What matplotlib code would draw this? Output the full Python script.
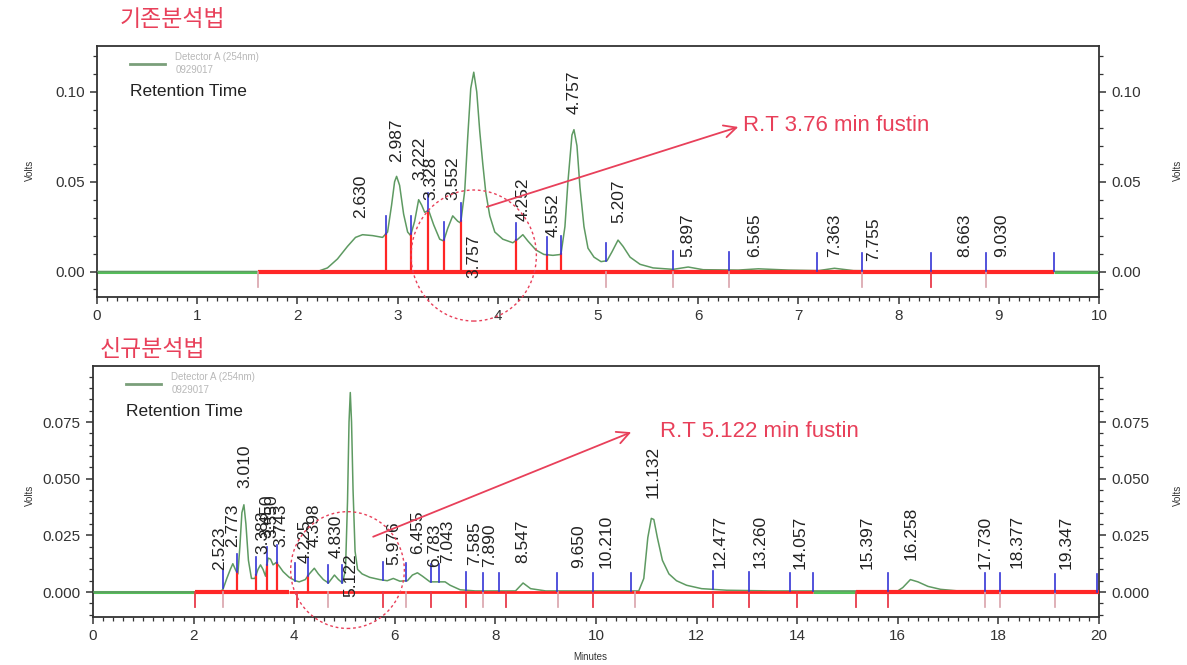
import numpy as np
import matplotlib
matplotlib.use("Agg")
import matplotlib.pyplot as plt
from matplotlib.patches import Ellipse
from matplotlib.ticker import MultipleLocator, FormatStrFormatter

plt.rcParams['font.family'] = ['Liberation Sans', 'DejaVu Sans']

# ---------------- 기존분석법 (old method) ----------------
old_time = [0.00, 2.20, 2.30, 2.40, 2.50, 2.58, 2.65, 2.75, 2.85, 2.90, 2.94, 2.97,
            2.99, 3.02, 3.06, 3.10, 3.13, 3.17, 3.21, 3.24, 3.27, 3.31, 3.36, 3.42,
            3.46, 3.50, 3.55, 3.60, 3.63, 3.67, 3.70, 3.73, 3.76, 3.79, 3.82, 3.85,
            3.88, 3.92, 3.97, 4.05, 4.15, 4.20, 4.25, 4.30, 4.38, 4.46, 4.55, 4.63,
            4.67, 4.70, 4.74, 4.76, 4.79, 4.82, 4.86, 4.90, 4.96, 5.03, 5.09, 5.14,
            5.20, 5.25, 5.32, 5.42, 5.55, 5.75, 5.90, 6.05, 6.40, 6.60, 6.90, 7.20,
            7.36, 7.55, 8.00, 10.00]
old_volts = [0.0, 0.0, 0.002, 0.007, 0.014, 0.019, 0.0205, 0.020, 0.019, 0.022, 0.037, 0.050,
             0.053, 0.048, 0.032, 0.022, 0.020, 0.028, 0.040, 0.037, 0.033, 0.034, 0.026, 0.018,
             0.017, 0.024, 0.031, 0.028, 0.027, 0.045, 0.075, 0.102, 0.111, 0.100, 0.078, 0.060,
             0.044, 0.031, 0.022, 0.018, 0.016, 0.018, 0.0205, 0.017, 0.012, 0.0095, 0.009, 0.0095,
             0.025, 0.050, 0.076, 0.079, 0.070, 0.047, 0.025, 0.013, 0.008, 0.0055, 0.006, 0.011,
             0.0175, 0.014, 0.008, 0.004, 0.002, 0.0012, 0.0025, 0.001, 0.0008, 0.0015, 0.0008, 0.0005,
             0.0018, 0.0005, 0.0002, 0.0]
old_peaks = ["2.630", "2.987", "3.222", "3.328", "3.552", "3.757", "4.252", "4.552",
             "4.757", "5.207", "5.897", "6.565", "7.363", "7.755", "8.663", "9.030"]
old_label_base = [0.030, 0.061, 0.051, 0.040, 0.040, -0.0035, 0.028, 0.019,
                  0.088, 0.027, 0.008, 0.008, 0.008, 0.006, 0.008, 0.008]
old_marks = [2.884, 3.134, 3.303, 3.463, 3.633, 4.182, 4.491, 4.631, 5.08, 5.75,
             6.31, 7.19, 7.63, 8.32, 8.87, 9.55]
old_drops = [2.884, 3.134, 3.303, 3.463, 3.633, 4.182, 4.491, 4.631]
old_under_pale = [1.61, 5.08, 5.75, 6.31, 7.63, 8.87]
old_under_red = [8.32]
old_baselines = [(1.61, 9.55, 3.0)]

# ---------------- 신규분석법 (new method) ----------------
new_time = [0.00, 2.50, 2.58, 2.66, 2.73, 2.78, 2.84, 2.88, 2.92, 2.96, 3.00, 3.04,
            3.09, 3.15, 3.22, 3.28, 3.33, 3.38, 3.43, 3.48, 3.53, 3.58, 3.64, 3.70,
            3.78, 3.90, 4.02, 4.10, 4.22, 4.30, 4.40, 4.48, 4.58, 4.68, 4.80, 4.88,
            4.96, 5.02, 5.06, 5.09, 5.115, 5.14, 5.17, 5.21, 5.26, 5.35, 5.50, 5.70,
            5.85, 5.97, 6.10, 6.25, 6.35, 6.45, 6.55, 6.70, 6.80, 7.00, 7.10, 7.30,
            7.60, 8.40, 8.55, 8.70, 9.00, 10.85, 10.95, 11.03, 11.10, 11.15, 11.22, 11.32,
            11.45, 11.60, 11.80, 12.10, 12.60, 13.50, 16.00, 16.10, 16.25, 16.40, 16.60, 16.85,
            17.20, 20.00]
new_volts = [0.0, 0.0, 0.001, 0.006, 0.010, 0.0125, 0.0095, 0.008, 0.020, 0.035, 0.0385, 0.030,
             0.014, 0.006, 0.006, 0.010, 0.012, 0.010, 0.007, 0.015, 0.0145, 0.012, 0.013, 0.0115,
             0.009, 0.0065, 0.005, 0.0045, 0.0055, 0.008, 0.0105, 0.008, 0.0055, 0.004, 0.0075, 0.0055,
             0.004, 0.010, 0.040, 0.075, 0.088, 0.075, 0.045, 0.018, 0.010, 0.008, 0.0065, 0.0055,
             0.005, 0.006, 0.0048, 0.005, 0.0075, 0.0085, 0.007, 0.0045, 0.0045, 0.0045, 0.003, 0.001,
             0.0005, 0.0005, 0.004, 0.0015, 0.0005, 0.0005, 0.006, 0.024, 0.0325, 0.032, 0.024, 0.014,
             0.008, 0.005, 0.003, 0.0015, 0.0008, 0.0005, 0.0005, 0.002, 0.0055, 0.0045, 0.0025, 0.0012,
             0.0005, 0.0]
new_peaks = ["2.523", "2.773", "3.010", "3.383", "3.450", "3.550", "3.743", "4.225",
             "4.398", "4.830", "5.122", "5.976", "6.455", "6.783", "7.043", "7.585",
             "7.890", "8.547", "9.650", "10.210", "11.132", "12.477", "13.260", "14.057",
             "15.397", "16.258", "17.730", "18.377", "19.347"]
new_label_base = [0.0097, 0.020, 0.046, 0.017, 0.024, 0.024, 0.020, 0.013,
                  0.020, 0.015, -0.002, 0.012, 0.017, 0.011, 0.0128, 0.012,
                  0.011, 0.0128, 0.0106, 0.0106, 0.0415, 0.0106, 0.0106, 0.010,
                  0.010, 0.014, 0.010, 0.0106, 0.010]
new_marks = [2.59, 2.86, 3.24, 3.46, 3.65, 4.02, 4.27, 4.68, 4.96, 5.77, 6.22, 6.71,
             6.885, 7.41, 7.76, 8.07, 9.22, 9.94, 10.70, 12.33, 13.05, 13.86, 14.31,
             15.81, 17.73, 18.03, 19.12, 19.97]
new_drops = [2.86, 3.24, 3.46, 3.65, 4.27]
new_under_pale = [2.59, 4.68, 6.22, 7.76, 9.25, 10.77, 17.73, 18.03, 19.12]
new_under_red = [2.03, 4.05, 5.77, 6.71, 7.41, 8.22, 9.94, 12.33, 13.05, 14.0, 15.16, 15.81]
new_baselines = [(2.03, 3.9, 3.0), (3.9, 14.31, 2.0), (15.16, 20.0, 3.0)]

TRACE = '#5e9a62'
RED = '#ff2626'
BLUE = '#3535d5'
PALE = '#d9a3ab'
NOTE = '#e8405a'
INK = '#222222'


def draw_chrom(ax, t, v, xmax, peaks, label_base, marks, drops, under_pale,
               under_red, baselines, mark_len, under_len):
    t = np.asarray(t)
    v = np.asarray(v)
    ax.plot(t, v, color=TRACE, lw=1.1, zorder=3)
    # uncorrected baseline stretches outside integration windows
    windows = []
    for s, e, _ in baselines:
        if windows and abs(windows[-1][1] - s) < 1e-9:
            windows[-1][1] = e
        else:
            windows.append([s, e])
    starts = [0.0] + [w[1] for w in windows]
    ends = [w[0] for w in windows] + [xmax]
    for s, e in zip(starts, ends):
        ax.plot([s, e], [0, 0], color='#55c05a', lw=2.2, zorder=2, solid_capstyle='butt')
    for s, e, lw in baselines:
        ax.plot([s, e], [0, 0], color=RED, lw=lw, zorder=4, solid_capstyle='butt')
    for x in drops:
        y = np.interp(x, t, v)
        ax.plot([x, x], [0, y], color=RED, lw=1.6, zorder=4)
    for x in marks:
        y = np.interp(x, t, v)
        ax.plot([x, x], [y, y + mark_len], color=BLUE, lw=1.2, zorder=5)
    for x in under_pale:
        ax.plot([x, x], [0, -under_len], color=PALE, lw=1.2, zorder=4)
    for x in under_red:
        ax.plot([x, x], [0, -under_len], color='#e83a4a', lw=1.3, zorder=4)
    for lab, yb in zip(peaks, label_base):
        ax.text(float(lab), yb, lab, rotation=90, ha='center', va='bottom',
                fontsize=12.5, color=INK, zorder=6)
    ax.set_xlim(0, xmax)


def style_axes(ax, ymajor, yminor, yfmt, xmajor, xminor):
    ax.yaxis.set_major_locator(MultipleLocator(ymajor))
    ax.yaxis.set_minor_locator(MultipleLocator(yminor))
    ax.yaxis.set_major_formatter(FormatStrFormatter(yfmt))
    ax.xaxis.set_major_locator(MultipleLocator(xmajor))
    ax.xaxis.set_minor_locator(MultipleLocator(xminor))
    ax.tick_params(axis='both', which='both', direction='out', colors='#333333',
                   labelsize=11, labelcolor='#333333')
    ax.tick_params(axis='y', which='both', left=True, right=True, labelright=True)
    ax.tick_params(which='major', length=5, width=1.1, pad=4)
    ax.tick_params(which='minor', length=3, width=0.9)
    for s in ax.spines.values():
        s.set_color('#333333')
        s.set_linewidth(1.3)


def legend_block(ax):
    ax.plot([0.033, 0.068], [0.928, 0.928], transform=ax.transAxes, color='#7a9f7a', lw=2)
    ax.text(0.078, 0.955, 'Detector A (254nm)', transform=ax.transAxes, fontsize=7,
            color='#b8b8b8', va='center')
    ax.text(0.078, 0.905, '0929017', transform=ax.transAxes, fontsize=7,
            color='#b8b8b8', va='center')
    ax.text(0.033, 0.82, 'Retention Time', transform=ax.transAxes, fontsize=12.5,
            color=INK, va='center')


W, H = 1187, 665
fig = plt.figure(figsize=(W / 100, H / 100), dpi=100)
ax1 = fig.add_axes([97 / W, 1 - 297 / H, (1099 - 97) / W, (297 - 46) / H])
ax2 = fig.add_axes([93 / W, 1 - 617 / H, (1099 - 93) / W, (617 - 366) / H])

draw_chrom(ax1, old_time, old_volts, 10, old_peaks, old_label_base, old_marks,
           old_drops, old_under_pale, old_under_red, old_baselines, 0.010, 0.0084)
ax1.set_ylim(-0.0142, 0.1256)
style_axes(ax1, 0.05, 0.01, '%.2f', 1, 0.1)
legend_block(ax1)

draw_chrom(ax2, new_time, new_volts, 20, new_peaks, new_label_base, new_marks,
           new_drops, new_under_pale, new_under_red, new_baselines, 0.008, 0.0066)
ax2.set_ylim(-0.0110, 0.0997)
style_axes(ax2, 0.025, 0.005, '%.3f', 2, 0.2)
legend_block(ax2)

# fustin peak call-outs
ax1.add_patch(Ellipse((3.76, 0.0089), 1.25, 0.073, fill=False, ec=NOTE, lw=1.0,
                      ls=(0, (2, 2)), clip_on=False, zorder=7))
ax1.annotate('', xy=(6.40, 0.0805), xytext=(3.89, 0.036),
             arrowprops=dict(arrowstyle='->', color=NOTE, lw=1.3, mutation_scale=22,
                             shrinkA=0, shrinkB=0), zorder=7)
ax1.text(6.45, 0.0813, 'R.T 3.76 min fustin', color=NOTE, fontsize=16, va='center')

ax2.add_patch(Ellipse((5.06, 0.0097), 2.26, 0.0515, fill=False, ec=NOTE, lw=1.0,
                      ls=(0, (2, 2)), clip_on=False, zorder=7))
ax2.annotate('', xy=(10.70, 0.0705), xytext=(5.57, 0.0244),
             arrowprops=dict(arrowstyle='->', color=NOTE, lw=1.3, mutation_scale=22,
                             shrinkA=0, shrinkB=0), zorder=7)
ax2.text(11.27, 0.0706, 'R.T 5.122 min fustin', color=NOTE, fontsize=16, va='center')

# titles and axis captions
fig.text(120 / W, 1 - 20 / H, '기존분석법', color='#e8405a', fontsize=16.5,
         family=['Noto Sans CJK KR', 'DejaVu Sans'], va='center', ha='left')
fig.text(100 / W, 1 - 350 / H, '신규분석법', color='#e8405a', fontsize=16.5,
         family=['Noto Sans CJK KR', 'DejaVu Sans'], va='center', ha='left')
for yc in (170, 495):
    fig.text(30 / W, 1 - yc / H, 'Volts', rotation=90, fontsize=7, color='#333333',
             va='center', ha='center')
    fig.text(1178 / W, 1 - yc / H, 'Volts', rotation=90, fontsize=7, color='#333333',
             va='center', ha='center')
fig.text(590 / W, 1 - 657 / H, 'Minutes', fontsize=7, color='#333333', va='center',
         ha='center')

fig.savefig('out.png', dpi=100)
